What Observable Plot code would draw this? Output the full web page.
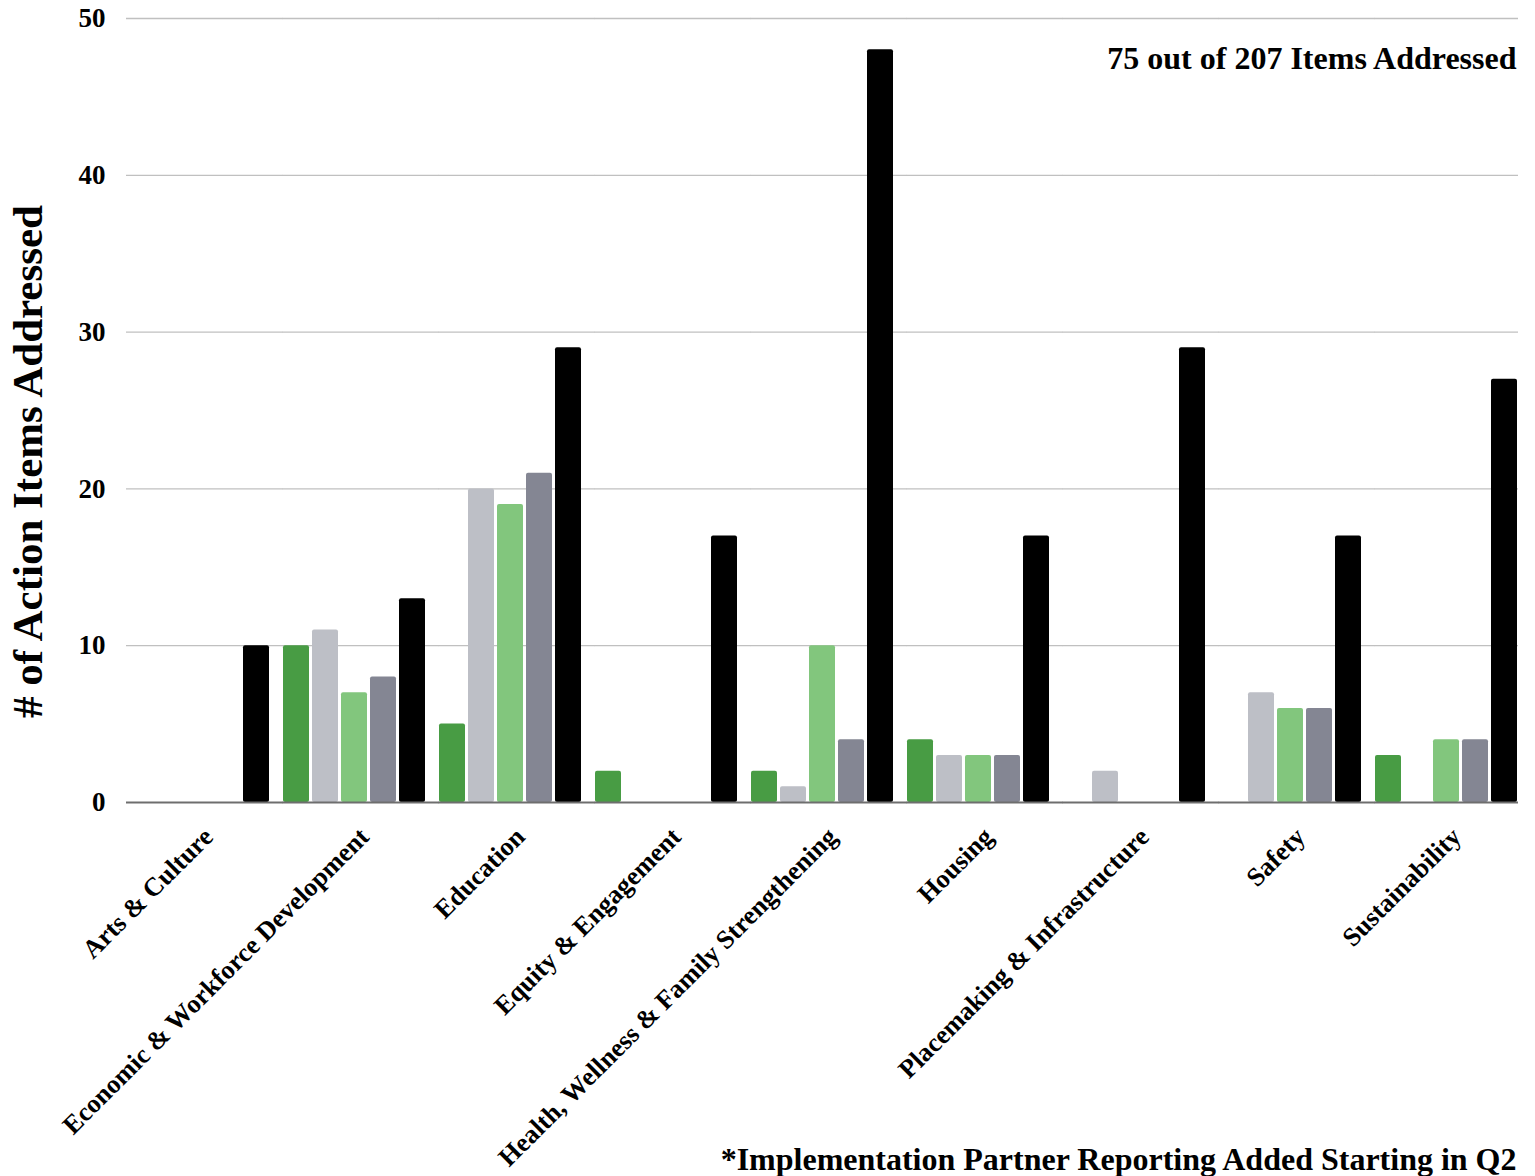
<!DOCTYPE html>
<html>
<head>
<meta charset="utf-8">
<script src="https://cdn.jsdelivr.net/npm/d3@7"></script>
<script src="https://cdn.jsdelivr.net/npm/@observablehq/plot@0.6"></script>
<style>
  html, body { margin: 0; padding: 0; background: #ffffff; }
  svg { display: block; }
</style>
</head>
<body>
<div id="chart"></div>
<script>
// ---- Data ----
const categories = [
  "Arts & Culture",
  "Economic & Workforce Development",
  "Education",
  "Equity & Engagement",
  "Health, Wellness & Family Strengthening",
  "Housing",
  "Placemaking & Infrastructure",
  "Safety",
  "Sustainability"
];
const seriesNames = ["Q1", "Q2", "Q3", "Q4", "Total Action Items"];
const q1Values    = [0, 10, 5, 2, 2, 4, 0, 0, 3];
const q2Values    = [0, 11, 20, 0, 1, 3, 2, 7, 0];
const q3Values    = [0, 7, 19, 0, 10, 3, 0, 6, 4];
const q4Values    = [0, 8, 21, 0, 4, 3, 0, 6, 4];
const totalValues = [10, 13, 29, 17, 48, 17, 29, 17, 27];
const yTicks = [0, 10, 20, 30, 40, 50];
const seriesColors = ["#489c44", "#bdbfc6", "#82c67d", "#848693", "#000000"];

const annotationText = "75 out of 207 Items Addressed";
const footnoteText = "*Implementation Partner Reporting Added Starting in Q2";
const yTitle = "# of Action Items Addressed";

// ---- Build table ----
const seriesValues = [q1Values, q2Values, q3Values, q4Values, totalValues];
const data = categories.flatMap((c, i) =>
  seriesNames.map((s, j) => ({category: c, series: s, value: seriesValues[j][i]}))
);

const W = 1535, H = 1176;
const mL = 124, mR = 16, mT = 18, mB = 374;
const fxPad = 0.079;
const fxStep = (W - mL - mR) / (categories.length - fxPad);
const gap = fxStep * fxPad;

const lastCat = categories[categories.length - 1];
const firstCat = categories[0];
const gridRows = categories.flatMap(c => yTicks.filter(t => t > 0).map(t => ({category: c, tick: t})));
const baseRows = categories.map(c => ({category: c, tick: 0}));

const chart = Plot.plot({
  width: W,
  height: H,
  marginLeft: mL,
  marginRight: mR,
  marginTop: mT,
  marginBottom: mB,
  style: {fontFamily: "'Liberation Serif', 'Times New Roman', serif", fontSize: "27px", fontWeight: "bold", color: "#000", background: "#fff"},
  fx: {domain: categories, paddingInner: fxPad, paddingOuter: 0},
  x: {domain: seriesNames, paddingInner: 0.115, paddingOuter: 0, axis: null},
  y: {domain: [0, 50]},
  color: {domain: seriesNames, range: seriesColors},
  marks: [
    // gridlines (continuous across facet gaps)
    Plot.ruleY(gridRows.filter(d => d.category !== lastCat), {fx: "category", y: "tick", stroke: "#c0c0c0", strokeWidth: 1.3, insetRight: -gap}),
    Plot.ruleY(gridRows.filter(d => d.category === lastCat), {fx: "category", y: "tick", stroke: "#c0c0c0", strokeWidth: 1.3}),
    Plot.barY(data, {fx: "category", x: "series", y: "value", fill: "series", rx: 2}),
    // baseline
    Plot.ruleY(baseRows.filter(d => d.category !== lastCat), {fx: "category", y: "tick", stroke: "#6e6e6e", strokeWidth: 2, insetRight: -gap}),
    Plot.ruleY(baseRows.filter(d => d.category === lastCat), {fx: "category", y: "tick", stroke: "#6e6e6e", strokeWidth: 2}),
    Plot.axisY({ticks: yTicks, tickSize: 0, tickPadding: 21, label: null, fontSize: 27, fontWeight: "bold"}),
    Plot.axisFx({anchor: "bottom", tickRotate: -45, tickSize: 0, tickPadding: 30, dx: 10, label: null, fontSize: 26.3, fontWeight: "bold"}),
    // annotation top right
    Plot.text([{category: lastCat, t: annotationText}], {fx: "category", text: "t", frameAnchor: "top-right", textAnchor: "end", lineAnchor: "bottom", dx: -2, dy: 50, fontSize: 32, fontWeight: "bold", fill: "#000"}),
    // footnote bottom right
    Plot.text([{category: lastCat, t: footnoteText}], {fx: "category", text: "t", frameAnchor: "bottom-right", textAnchor: "end", lineAnchor: "bottom", dx: -2, dy: 367, fontSize: 32, fontWeight: "bold", fill: "#000"}),
    // y title
    Plot.text([{category: firstCat, t: yTitle}], {fx: "category", text: "t", frameAnchor: "left", textAnchor: "middle", lineAnchor: "bottom", rotate: -90, dx: -85, dy: 51, fontSize: 43, fontWeight: "bold", fill: "#000"})
  ]
});
document.getElementById("chart").appendChild(chart);
</script>
</body>
</html>
